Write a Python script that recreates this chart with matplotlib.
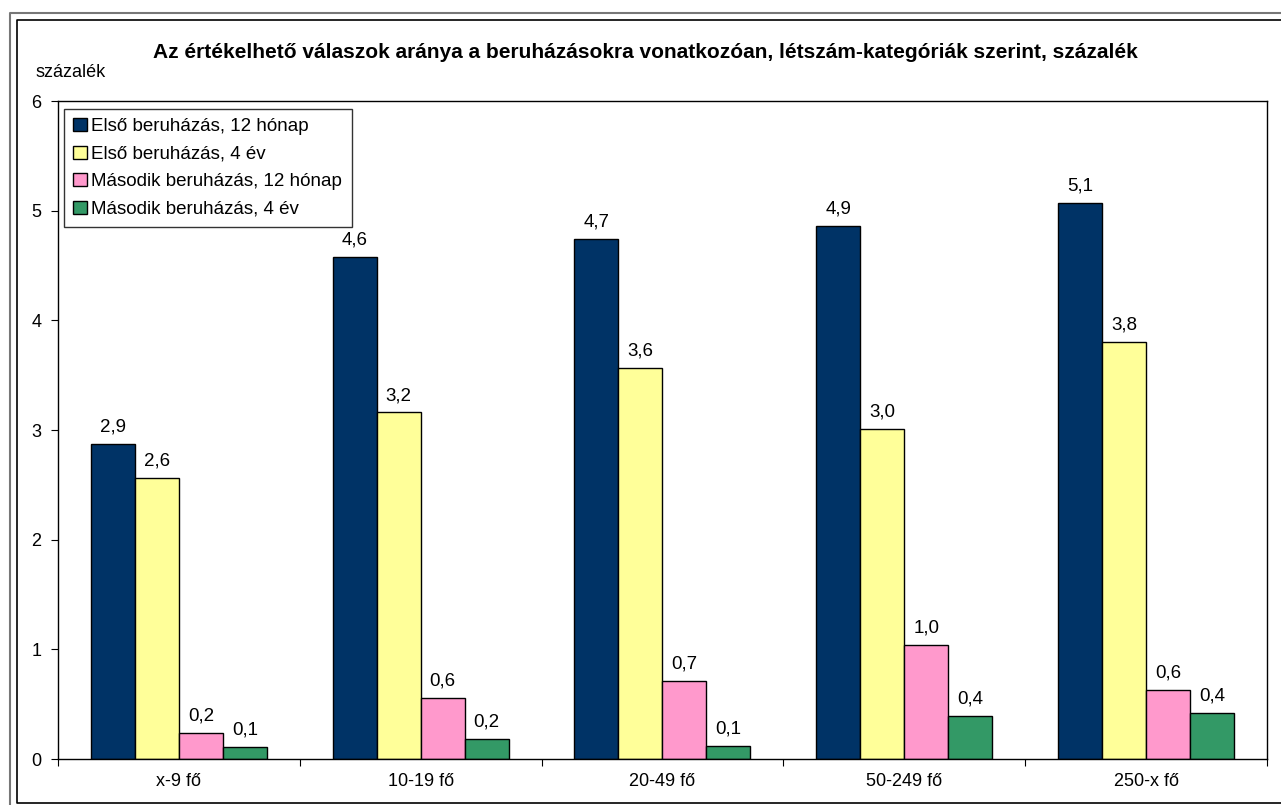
import numpy as np
from matplotlib import pyplot as plt
from matplotlib.lines import Line2D

plt.rcParams['font.family'] = ['Liberation Sans', 'DejaVu Sans']

categories = ["x-9 fő", "10-19 fő", "20-49 fő", "50-249 fő", "250-x fő"]
series_names = ["Első beruházás, 12 hónap", "Első beruházás, 4 év",
                "Második beruházás, 12 hónap", "Második beruházás, 4 év"]
elso_12 = [2.87, 4.58, 4.74, 4.86, 5.07]
elso_4 = [2.56, 3.16, 3.57, 3.01, 3.80]
masodik_12 = [0.24, 0.56, 0.71, 1.04, 0.63]
masodik_4 = [0.11, 0.18, 0.12, 0.39, 0.42]
colors = ["#003366", "#FFFF99", "#FF99CC", "#339966"]

series = [elso_12, elso_4, masodik_12, masodik_4]

fig = plt.figure(figsize=(12.81, 8.05), dpi=100)
ax = fig.add_axes([0.0453, 0.0571, 0.9437, 0.8174])

x = np.arange(len(categories))
width = 0.182
for i, vals in enumerate(series):
    pos = x + (i - 1.5) * width
    bars = ax.bar(pos, vals, width=width, color=colors[i], edgecolor="black",
                  linewidth=1, label=series_names[i])
    for b, v in zip(bars, vals):
        ax.annotate(f"{v:.1f}".replace(".", ","), (b.get_x() + b.get_width() / 2, v),
                    xytext=(0, 6), textcoords="offset points", ha="center", va="bottom",
                    fontsize=13.5)

ax.set_xlim(-0.5, len(categories) - 0.5)
ax.set_ylim(0, 6)
ax.set_yticks(range(0, 7))
ax.tick_params(axis="y", direction="out", length=5, labelsize=13, pad=7)

ax.set_xticks(np.arange(-0.5, len(categories) + 0.5, 1))
ax.set_xticklabels([])
ax.set_xticks(x, minor=True)
ax.set_xticklabels(categories, minor=True, fontsize=13)
ax.tick_params(axis="x", which="major", direction="out", length=5)
ax.tick_params(axis="x", which="minor", length=0, pad=10)

for s in ax.spines.values():
    s.set_linewidth(1)

leg = ax.legend(loc="upper left", bbox_to_anchor=(0.005, 0.988), fontsize=13.5,
                frameon=True, fancybox=False, shadow=False, handlelength=0.7,
                handleheight=0.7, handletextpad=0.25, labelspacing=0.55,
                borderpad=0.5, borderaxespad=0.0)
leg.get_frame().set_edgecolor("black")
leg.get_frame().set_linewidth(1)

fig.text(0.504, 0.935, "Az értékelhető válaszok aránya a beruházásokra vonatkozóan, létszám-kategóriák szerint, százalék",
         ha="center", va="center", fontsize=15, fontweight="bold")
fig.text(0.028, 0.910, "százalék", ha="left", va="center", fontsize=13)

# chart frame (outer grey, inner black)
fig.lines.append(Line2D([0.0078, 0.0078, 1.01], [-0.01, 0.9839, 0.9839],
                        transform=fig.transFigure, color="#777777", linewidth=1.5))
fig.lines.append(Line2D([1.01, 0.0133, 0.0133, 1.01], [0.0025, 0.0025, 0.9752, 0.9752],
                        transform=fig.transFigure, color="black", linewidth=1.2))

fig.savefig("out.png", dpi=100)
